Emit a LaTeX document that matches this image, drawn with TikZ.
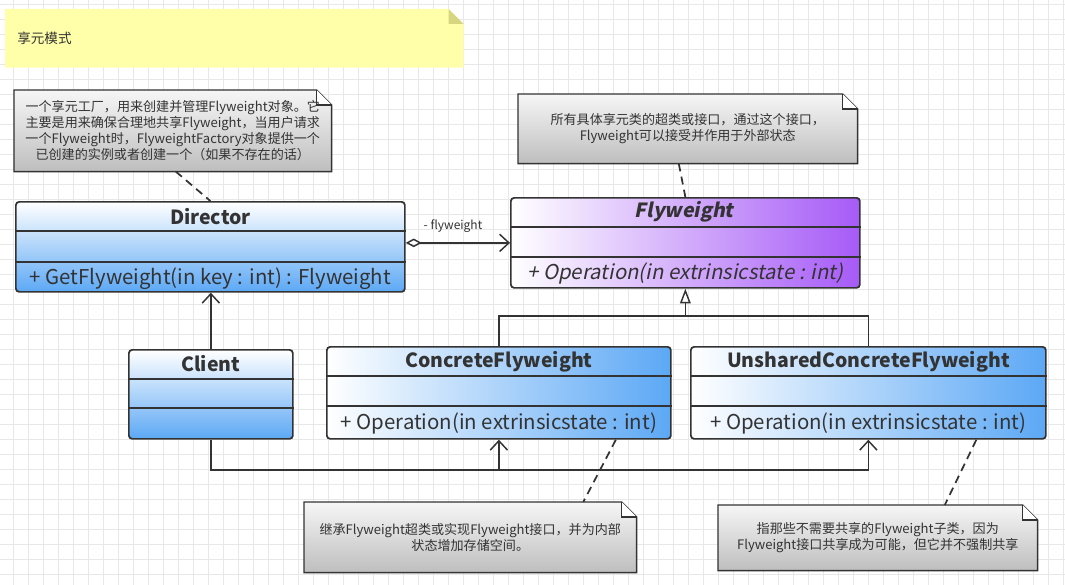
\documentclass[tikz,border=0pt]{standalone}
\usepackage{fontspec}
\setmainfont{Noto Sans CJK SC}[AutoFakeSlant=0.2]
\usetikzlibrary{calc,arrows.meta}
\definecolor{gridc}{RGB}{232,232,232}
\definecolor{border}{RGB}{51,51,51}
\definecolor{blueC}{RGB}{92,168,245}
\definecolor{purpC}{RGB}{166,90,247}
\definecolor{noteTop}{RGB}{246,246,246}
\definecolor{noteBot}{RGB}{190,190,190}
\definecolor{noteY}{RGB}{255,255,170}
\definecolor{foldY}{RGB}{214,214,128}
\definecolor{txt}{RGB}{51,51,51}
\pgfdeclarelayer{grid}
\pgfdeclarelayer{bg}
\pgfsetlayers{grid,bg,main}
\begin{document}
\begin{tikzpicture}[x=0.75pt,y=-0.75pt,
  classbox/.style={draw=border, line width=1.3pt, rounded corners=2.5pt, anchor=north west, inner sep=0pt},
  divline/.style={draw=border, line width=1.3pt},
  titlef/.style={font=\fontsize{14.6}{17}\selectfont\bfseries, text=txt, inner sep=0pt},
  methf/.style={font=\fontsize{15.3}{18}\selectfont, text=txt, inner sep=0pt},
  notebox/.style={anchor=north west, inner sep=0pt, align=center, text=txt, font=\fontsize{9.8}{12}\selectfont},
  conn/.style={draw=border, line width=1.3pt},
  dashc/.style={draw=border, line width=1.3pt, dash pattern=on 6pt off 4pt},
  openarr/.style={-{Straight Barb[length=7pt,width=13pt,line width=1.1pt]}},
]
\useasboundingbox (0,0) rectangle (1065,585);
\begin{pgfonlayer}{grid}
\fill[white] (0,0) rectangle (1065,585);
\foreach \i in {0,...,70} \draw[gridc, line width=0.6pt] ({13.3+15*\i},0) -- ({13.3+15*\i},585);
\foreach \i in {0,...,38} \draw[gridc, line width=0.6pt] (0,{4+15*\i}) -- (1065,{4+15*\i});
\end{pgfonlayer}

% ---------- yellow title note ----------
\node[notebox, minimum width={458*0.75pt}, minimum height={58*0.75pt}] (title) at (5,9) {};
\node[anchor=west, inner sep=0pt, text=txt, font=\fontsize{10.2}{12}\selectfont] (titleT) at ($(title.west)+(12,0)$) {享元模式};
\begin{pgfonlayer}{bg}
\fill[noteY] (title.north west) -- ($(title.north east)+(-15,0)$) -- ($(title.north east)+(0,15)$) -- (title.south east) -- (title.south west) -- cycle;
\fill[foldY] ($(title.north east)+(-15,0)$) -- ($(title.north east)+(0,15)$) -- ($(title.north east)+(-15,15)$) -- cycle;
\end{pgfonlayer}

% ---------- gray notes ----------
\node[notebox, minimum width={317*0.75pt}, minimum height={81*0.75pt}] (n1) at (14,90) {一个享元工厂，用来创建并管理Flyweight对象。它\\主要是用来确保合理地共享Flyweight，当用户请求\\一个Flyweight时，FlyweightFactory对象提供一个\\已创建的实例或者创建一个（如果不存在的话）};
\node[notebox, minimum width={339*0.75pt}, minimum height={69*0.75pt}] (n2) at (518,94) {所有具体享元类的超类或接口，通过这个接口，\\Flyweight可以接受并作用于外部状态};
\node[notebox, minimum width={332*0.75pt}, minimum height={70*0.75pt}] (n3) at (304,502) {继承Flyweight超类或实现Flyweight接口，并为内部\\状态增加存储空间。};
\node[notebox, minimum width={319*0.75pt}, minimum height={65*0.75pt}] (n4) at (718,505) {指那些不需要共享的Flyweight子类，因为\\Flyweight接口共享成为可能，但它并不强制共享};
\begin{pgfonlayer}{bg}
\foreach \n in {n1,n2,n3,n4}{
  \shade[top color=noteTop, bottom color=noteBot] (\n.north west) -- ($(\n.north east)+(-15,0)$) -- ($(\n.north east)+(0,15)$) -- (\n.south east) -- (\n.south west) -- cycle;
  \draw[border, line width=1.1pt] (\n.north west) -- ($(\n.north east)+(-15,0)$) -- ($(\n.north east)+(0,15)$) -- (\n.south east) -- (\n.south west) -- cycle;
  \fill[white] ($(\n.north east)+(-15,0)$) -- ($(\n.north east)+(0,15)$) -- ($(\n.north east)+(-15,15)$) -- cycle;
  \draw[border, line width=0.8pt] ($(\n.north east)+(-15,0)$) -- ($(\n.north east)+(-15,15)$) -- ($(\n.north east)+(0,15)$);
}
\end{pgfonlayer}

% ---------- classes ----------
\node[classbox, top color=white, bottom color=blueC, minimum width={389*0.75pt}, minimum height={90*0.75pt}] (dir) at (15,201) {};
\draw[divline] ($(dir.north west)+(0,30)$) -- ($(dir.north east)+(0,30)$);
\draw[divline] ($(dir.north west)+(0,61)$) -- ($(dir.north east)+(0,61)$);
\node[titlef] (dirT) at ($(dir.north)+(0,16)$) {Director};
\node[methf] (dirM) at ($(dir.south)+(0,-14)$) {+ GetFlyweight(in key : int) : Flyweight};

\node[classbox, left color=white, right color=purpC, minimum width={349*0.75pt}, minimum height={90*0.75pt}] (fw) at (510,197) {};
\draw[divline] ($(fw.north west)+(0,30)$) -- ($(fw.north east)+(0,30)$);
\draw[divline] ($(fw.north west)+(0,60)$) -- ($(fw.north east)+(0,60)$);
\node[titlef, xslant=0.2, transform shape] (fwT) at ($(fw.north)+(0,15)$) {Flyweight};
\node[methf, font=\fontsize{15.3}{18}\selectfont\itshape] (fwM) at ($(fw.south)+(0,-15)$) {+ Operation(in extrinsicstate : int)};

\node[classbox, top color=white, bottom color=blueC, minimum width={164*0.75pt}, minimum height={89*0.75pt}] (cl) at (128,349) {};
\draw[divline] ($(cl.north west)+(0,30)$) -- ($(cl.north east)+(0,30)$);
\draw[divline] ($(cl.north west)+(0,59)$) -- ($(cl.north east)+(0,59)$);
\node[titlef] (clT) at ($(cl.north)+(0,15)$) {Client};

\node[classbox, left color=white, right color=blueC, minimum width={344*0.75pt}, minimum height={92*0.75pt}] (cf) at (326,346) {};
\draw[divline] ($(cf.north west)+(0,30)$) -- ($(cf.north east)+(0,30)$);
\draw[divline] ($(cf.north west)+(0,60)$) -- ($(cf.north east)+(0,60)$);
\node[titlef] (cfT) at ($(cf.north)+(0,16)$) {ConcreteFlyweight};
\node[methf] (cfM) at ($(cf.south)+(0,-16)$) {+ Operation(in extrinsicstate : int)};

\node[classbox, left color=white, right color=blueC, minimum width={355*0.75pt}, minimum height={92*0.75pt}] (ucf) at (690,346) {};
\draw[divline] ($(ucf.north west)+(0,30)$) -- ($(ucf.north east)+(0,30)$);
\draw[divline] ($(ucf.north west)+(0,60)$) -- ($(ucf.north east)+(0,60)$);
\node[titlef] (ucfT) at ($(ucf.north)+(0,16)$) {UnsharedConcreteFlyweight};
\node[methf] (ucfM) at ($(ucf.south)+(0,-16)$) {+ Operation(in extrinsicstate : int)};

% ---------- connectors ----------
\draw[conn, {Diamond[open,length=12pt,width=6.5pt,line width=1.1pt]}-{Straight Barb[length=7pt,width=13pt,line width=1.1pt]}] (dir.east |- fw.west) -- (fw.west);
\node[inner sep=0pt, text=txt, font=\fontsize{9}{11}\selectfont] (aggL) at (453,226) {- flyweight};

\draw[conn, openarr] (cl.north) -- (cl.north |- dir.south);

\coordinate (gj) at ($(cf.north)+(0,-30)$);
\draw[conn] (cf.north) -- (gj) -| (ucf.north);
\draw[conn, -{Triangle[open,length=11pt,width=8pt,line width=1.1pt]}] (gj -| fw.south) -- (fw.south);

\coordinate (dj) at ($(cl.south)+(0,30)$);
\draw[conn, openarr] (cl.south) -- (dj) -| (ucf.south);
\draw[conn, openarr] (dj -| cf.south) -- (cf.south);

\draw[dashc] ($(n1.south)+(3,0)$) -- (dir.north);
\draw[dashc] ($(n2.south)+(-9,0)$) -- (fw.north);
\draw[dashc] ($(cf.south)+(117,0)$) -- ($(n3.north)+(113,0)$);
\draw[dashc] ($(ucf.south)+(108,0)$) -- ($(n4.north)+(67,0)$);
\end{tikzpicture}
\end{document}
